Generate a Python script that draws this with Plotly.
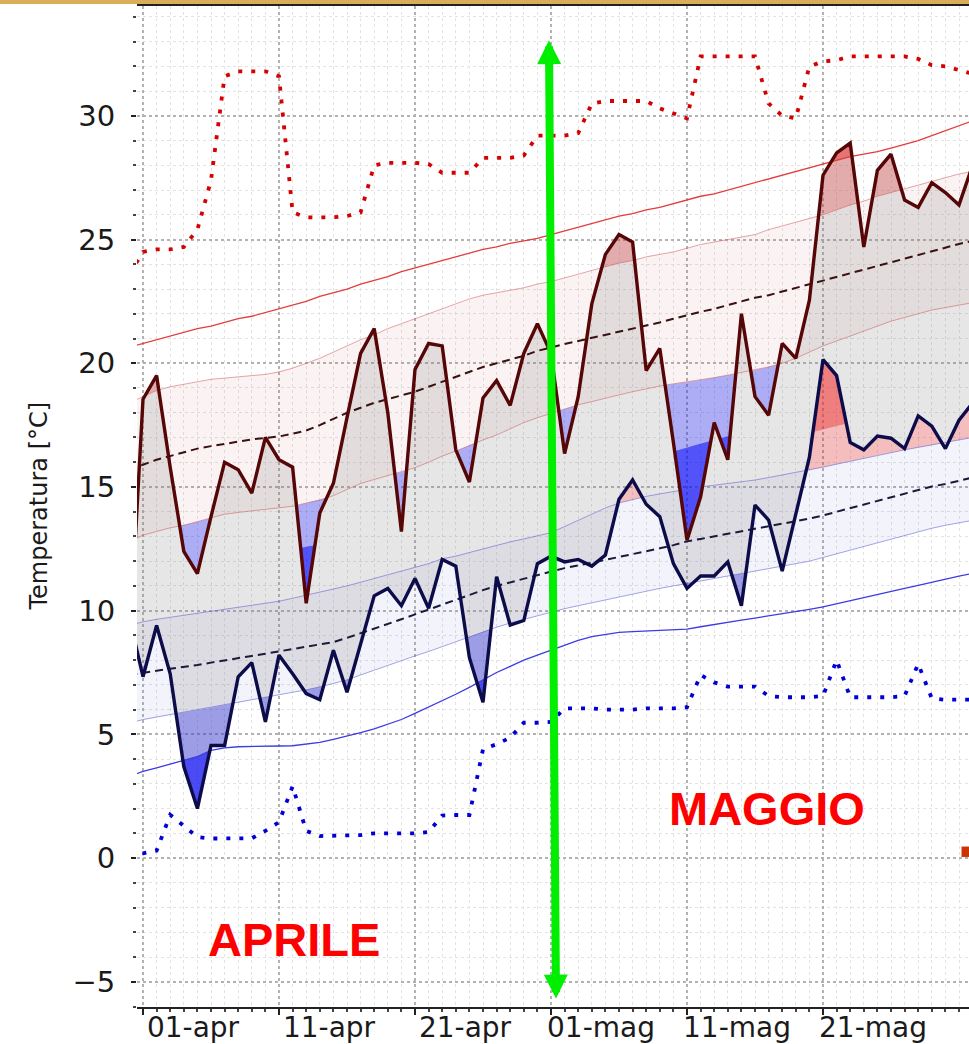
import numpy as np
import pandas as pd
import plotly.graph_objects as go

# ---------------- data (daily, 31-mar .. 01-jun) ----------------
dates = pd.date_range("2023-03-31", "2023-06-01", freq="D")

tmax = [8.5, 18.55, 19.5, 15.8, 12.4, 11.5, 13.8, 16.0, 15.7, 14.75, 17.0, 16.1, 15.8, 10.3, 13.95,
        15.15, 17.8, 20.4, 21.4, 18.0, 13.2, 19.75, 20.8, 20.7, 16.5, 15.2, 18.6, 19.3, 18.3, 20.4,
        21.6, 20.4, 16.35, 18.65, 22.4, 24.4, 25.2, 24.9, 19.7, 20.6, 16.8, 12.85, 14.6, 17.6, 16.1,
        22.0, 18.65, 17.9, 20.8, 20.2, 22.55, 27.6, 28.5, 28.9, 24.7, 27.8, 28.45, 26.6, 26.3, 27.3,
        26.9, 26.4, 28.0]
tmin = [9.7, 7.33, 9.4, 7.45, 3.7, 2.0, 4.55, 4.55, 7.33, 7.9, 5.5, 8.2, 7.45, 6.65, 6.4, 8.4,
        6.7, 8.7, 10.6, 10.9, 10.2, 11.3, 10.1, 12.07, 11.8, 8.1, 6.3, 11.37, 9.42, 9.6, 11.9, 12.2,
        11.97, 12.07, 11.8, 12.25, 14.5, 15.28, 14.3, 13.8, 11.9, 10.9, 11.4, 11.4, 11.97, 10.2,
        14.27, 13.66, 11.6, 13.9, 16.2, 20.15, 19.5, 16.8, 16.5, 17.06, 16.97, 16.55, 17.87, 17.46,
        16.55, 17.7, 18.4]
rec_max = [23.6, 24.5, 24.6, 24.6, 24.7, 25.4, 27.4, 31.6, 31.8, 31.8, 31.8, 31.6, 26.1, 25.9, 25.9,
           25.9, 25.95, 26.1, 28.0, 28.1, 28.1, 28.1, 28.05, 27.7, 27.7, 27.7, 28.3, 28.3, 28.3, 28.4,
           29.2, 29.2, 29.2, 29.3, 30.5, 30.6, 30.6, 30.6, 30.6, 30.3, 30.1, 29.9, 32.4, 32.4, 32.4,
           32.4, 32.4, 30.5, 30.0, 29.9, 32.0, 32.2, 32.25, 32.4, 32.4, 32.4, 32.4, 32.4, 32.3, 32.05,
           32.0, 31.85, 31.7]
rec_min = [0.19, 0.19, 0.3, 1.75, 1.3, 0.85, 0.79, 0.79, 0.79, 0.8, 1.1, 1.45, 2.9, 1.1, 0.89, 0.9,
           0.9, 0.93, 1.0, 1.0, 1.0, 1.0, 1.05, 1.72, 1.74, 1.74, 4.4, 4.6, 4.87, 5.47, 5.47, 5.5,
           6.05, 6.05, 6.05, 6.0, 6.0, 6.0, 6.05, 6.05, 6.05, 6.1, 7.4, 7.1, 6.93, 6.93, 6.93, 6.55,
           6.5, 6.5, 6.5, 6.55, 8.0, 6.5, 6.5, 6.5, 6.5, 6.55, 7.85, 6.45, 6.4, 6.4, 6.4]
tmax_ext_high = [20.65, 20.8, 20.95, 21.1, 21.25, 21.4, 21.5, 21.65, 21.8, 21.9, 22.05, 22.2, 22.35,
                 22.5, 22.7, 22.85, 23.0, 23.2, 23.35, 23.5, 23.7, 23.85, 24.0, 24.15, 24.3, 24.45,
                 24.6, 24.7, 24.85, 24.95, 25.05, 25.2, 25.35, 25.5, 25.65, 25.8, 25.95, 26.05, 26.2,
                 26.3, 26.45, 26.6, 26.75, 26.85, 27.0, 27.15, 27.3, 27.45, 27.6, 27.75, 27.9, 28.05,
                 28.2, 28.35, 28.45, 28.55, 28.7, 28.85, 29.0, 29.2, 29.4, 29.6, 29.8]
tmax_p90 = [18.4, 18.65, 18.9, 19.05, 19.15, 19.25, 19.35, 19.4, 19.45, 19.5, 19.55, 19.65, 19.8, 20.0,
            20.2, 20.45, 20.7, 20.95, 21.15, 21.4, 21.6, 21.8, 22.0, 22.2, 22.4, 22.6, 22.75, 22.85,
            22.95, 23.05, 23.2, 23.3, 23.45, 23.6, 23.75, 23.9, 24.05, 24.15, 24.3, 24.4, 24.5, 24.65,
            24.8, 24.9, 25.0, 25.1, 25.2, 25.4, 25.55, 25.7, 25.85, 26.0, 26.2, 26.4, 26.55, 26.75,
            26.9, 27.05, 27.2, 27.35, 27.5, 27.65, 27.75]
tmax_mean = [15.65, 15.9, 16.1, 16.25, 16.4, 16.55, 16.65, 16.75, 16.85, 16.92, 16.98, 17.04, 17.15,
             17.28, 17.5, 17.75, 18.0, 18.2, 18.4, 18.55, 18.7, 18.85, 19.05, 19.25, 19.45, 19.65,
             19.85, 20.0, 20.15, 20.3, 20.5, 20.65, 20.78, 20.9, 21.02, 21.15, 21.27, 21.4, 21.52,
             21.65, 21.8, 21.95, 22.08, 22.2, 22.35, 22.5, 22.65, 22.75, 22.9, 23.05, 23.2, 23.35,
             23.5, 23.65, 23.8, 23.95, 24.1, 24.25, 24.4, 24.55, 24.7, 24.82, 24.95]
tmax_p10 = [12.8, 13.05, 13.2, 13.35, 13.45, 13.6, 13.75, 13.9, 13.97, 14.03, 14.08, 14.13, 14.22, 14.35,
            14.47, 14.65, 14.9, 15.14, 15.3, 15.45, 15.6, 15.78, 16.0, 16.25, 16.45, 16.68, 16.9, 17.1,
            17.35, 17.6, 17.8, 17.97, 18.15, 18.32, 18.45, 18.6, 18.72, 18.85, 18.97, 19.08, 19.17,
            19.25, 19.32, 19.42, 19.52, 19.62, 19.72, 19.85, 20.0, 20.2, 20.45, 20.7, 20.9, 21.1, 21.3,
            21.5, 21.7, 21.85, 22.0, 22.15, 22.25, 22.35, 22.45]
tmax_ext_low = [10.7, 10.85, 11.0, 11.15, 11.25, 11.35, 11.5, 11.65, 11.8, 11.95, 12.1, 12.3, 12.45,
                12.6, 12.65, 12.72, 12.8, 12.87, 12.95, 13.02, 13.1, 13.27, 13.43, 13.6, 13.77, 13.93,
                14.1, 14.27, 14.43, 14.6, 14.77, 14.93, 15.1, 15.27, 15.43, 15.6, 15.77, 15.93, 16.1,
                16.27, 16.43, 16.6, 16.75, 16.9, 17.05, 17.2, 17.35, 17.5, 17.65, 17.8, 17.95, 18.1,
                18.25, 18.4, 18.55, 18.7, 18.85, 19.0, 19.15, 19.3, 19.45, 19.6, 19.75]
tmin_ext_high = [11.3, 11.45, 11.6, 11.7, 11.8, 11.9, 12.0, 12.1, 12.2, 12.3, 12.4, 12.5, 12.6, 12.7,
                 12.82, 12.95, 13.08, 13.2, 13.35, 13.5, 13.65, 13.8, 13.92, 14.03, 14.13, 14.23,
                 14.33, 14.43, 14.53, 14.63, 14.75, 14.88, 15.05, 15.2, 15.35, 15.5, 15.62, 15.75,
                 15.87, 15.98, 16.1, 16.2, 16.3, 16.4, 16.5, 16.6, 16.7, 16.8, 16.9, 17.05, 17.2, 17.3,
                 17.45, 17.6, 17.75, 17.9, 18.05, 18.2, 18.35, 18.5, 18.65, 18.8, 18.95]
tmin_p90 = [9.4, 9.55, 9.65, 9.73, 9.82, 9.9, 9.98, 10.07, 10.14, 10.22, 10.3, 10.38, 10.5, 10.62,
            10.75, 10.88, 11.0, 11.15, 11.3, 11.45, 11.6, 11.75, 11.9, 12.1, 12.2, 12.35, 12.5, 12.65,
            12.78, 12.9, 13.02, 13.15, 13.4, 13.65, 13.9, 14.15, 14.35, 14.5, 14.62, 14.72, 14.82,
            14.92, 15.0, 15.07, 15.13, 15.2, 15.28, 15.38, 15.48, 15.58, 15.68, 15.8, 15.92, 16.04,
            16.16, 16.28, 16.4, 16.5, 16.6, 16.7, 16.8, 16.9, 17.0]
tmin_mean = [7.4, 7.5, 7.57, 7.65, 7.72, 7.8, 7.9, 8.0, 8.08, 8.17, 8.26, 8.35, 8.43, 8.52, 8.62, 8.73,
             8.9, 9.08, 9.27, 9.45, 9.65, 9.85, 10.05, 10.25, 10.45, 10.65, 10.83, 11.0, 11.15, 11.3,
             11.45, 11.6, 11.72, 11.83, 11.93, 12.05, 12.17, 12.28, 12.4, 12.52, 12.65, 12.8, 12.9,
             13.0, 13.1, 13.2, 13.3, 13.4, 13.5, 13.6, 13.72, 13.85, 14.0, 14.15, 14.3, 14.45, 14.6,
             14.75, 14.9, 15.02, 15.12, 15.25, 15.38]
tmin_p10 = [5.45, 5.6, 5.7, 5.8, 5.88, 5.98, 6.08, 6.18, 6.28, 6.38, 6.5, 6.6, 6.7, 6.8, 6.92, 7.05,
            7.2, 7.4, 7.6, 7.8, 8.0, 8.17, 8.35, 8.55, 8.75, 8.95, 9.15, 9.33, 9.5, 9.65, 9.8, 9.95,
            10.08, 10.2, 10.32, 10.45, 10.57, 10.68, 10.8, 10.9, 11.0, 11.1, 11.2, 11.3, 11.4, 11.5,
            11.6, 11.7, 11.8, 11.9, 12.0, 12.15, 12.3, 12.45, 12.6, 12.75, 12.9, 13.05, 13.2, 13.33,
            13.45, 13.55, 13.65]
tmin_ext_low = [3.3, 3.5, 3.65, 3.8, 3.95, 4.1, 4.35, 4.45, 4.5, 4.52, 4.53, 4.53, 4.54, 4.6, 4.68,
                4.8, 4.92, 5.07, 5.22, 5.4, 5.6, 5.85, 6.1, 6.35, 6.62, 6.9, 7.2, 7.5, 7.75, 8.0, 8.2,
                8.4, 8.6, 8.8, 8.95, 9.05, 9.12, 9.15, 9.17, 9.18, 9.2, 9.25, 9.35, 9.45, 9.55, 9.62,
                9.7, 9.78, 9.87, 9.96, 10.05, 10.15, 10.28, 10.4, 10.52, 10.65, 10.78, 10.9, 11.02,
                11.15, 11.27, 11.4, 11.5]

tick_dates = ["2023-04-01", "2023-04-11", "2023-04-21", "2023-05-01", "2023-05-11", "2023-05-21"]
tick_labels = ["01-apr", "11-apr", "21-apr", "01-mag", "11-mag", "21-mag"]
y_ticks = [-5, 0, 5, 10, 15, 20, 25, 30]

series = [tmax, tmin, rec_max, rec_min, tmax_ext_high, tmax_p90, tmax_mean, tmax_p10, tmax_ext_low,
          tmin_ext_high, tmin_p90, tmin_mean, tmin_p10, tmin_ext_low]
for s in series:
    assert len(s) == len(dates), len(s)

# ---------------- helpers ----------------
base = pd.Timestamp("2023-04-01")


def at_day(d):
    return (base + pd.to_timedelta(d, unit="D")).strftime("%Y-%m-%d %H:%M:%S")


idx = np.arange(len(dates))
tf = np.linspace(0, len(dates) - 1, (len(dates) - 1) * 48 + 1)
xf = (dates[0] + pd.to_timedelta(tf, unit="D")).values


def fine(a):
    return np.interp(tf, idx, np.asarray(a, dtype=float))


fig = go.Figure()


def poly(upper, lower, color):
    """Filled region between two curves, only where upper > lower (separate pieces)."""
    pos = (upper - lower) > 1e-9
    xs, ys = [], []
    i, n = 0, len(pos)
    while i < n:
        if not pos[i]:
            i += 1
            continue
        j = i
        while j < n and pos[j]:
            j += 1
        a, b = max(i - 1, 0), min(j, n - 1)
        xx = xf[a:b + 1]
        xs.extend(list(xx) + list(xx[::-1]) + [xx[0], None])
        ys.extend(list(upper[a:b + 1]) + list(lower[a:b + 1][::-1]) + [upper[a], None])
        i = j
    if not xs:
        return
    fig.add_trace(go.Scatter(
        x=xs, y=ys, mode="lines", fill="toself", fillcolor=color,
        line=dict(width=0, color="rgba(0,0,0,0)"), connectgaps=False,
        hoverinfo="skip", showlegend=False))


TX, TN = fine(tmax), fine(tmin)
XH, X90, X10, XL = fine(tmax_ext_high), fine(tmax_p90), fine(tmax_p10), fine(tmax_ext_low)
NH, N90, N10, NL = fine(tmin_ext_high), fine(tmin_p90), fine(tmin_p10), fine(tmin_ext_low)

# climatological bands
poly(X90, X10, "rgba(205,92,92,0.075)")
poly(N90, N10, "rgba(100,100,200,0.08)")
# gray between tmin and tmax
poly(TX, TN, "rgba(128,128,128,0.20)")

LRED, DRED = "rgba(220,40,40,0.30)", "rgba(230,40,40,0.42)"
LBLU, DBLU = "rgba(40,40,230,0.38)", "rgba(0,0,255,0.52)"
for V, H, P90, P10, L in [(TX, XH, X90, X10, XL), (TN, NH, N90, N10, NL)]:
    poly(np.maximum(V, P90), P90, LRED)
    poly(np.maximum(V, H), H, DRED)
    poly(P10, np.minimum(V, P10), LBLU)
    poly(L, np.minimum(V, L), DBLU)


def line(y, color, width, dash="solid"):
    fig.add_trace(go.Scatter(x=dates, y=y, mode="lines",
                             line=dict(color=color, width=width, dash=dash),
                             hoverinfo="skip", showlegend=False))


line(tmax_p90, "rgba(205,92,92,0.55)", 1)
line(tmax_p10, "rgba(205,92,92,0.55)", 1)
line(tmin_p90, "rgba(90,90,210,0.55)", 1)
line(tmin_p10, "rgba(90,90,210,0.55)", 1)
line(tmax_ext_high, "rgb(228,60,60)", 1.3)
line(tmin_ext_low, "rgb(60,60,228)", 1.3)
line(tmax_mean, "#3a1010", 2, "8px,5px")
line(tmin_mean, "#1a1a3a", 2, "8px,5px")
line(rec_max, "#d60000", 3.8, "4px,9px")
line(rec_min, "#0000d6", 3.8, "4px,9px")
line(tmax, "#560606", 3.4)
line(tmin, "#0c0c4a", 3.4)

# ---------------- layout ----------------
fig.update_layout(
    width=969, height=1044,
    margin=dict(l=137, r=0, t=6, b=37, autoexpand=False),
    paper_bgcolor="white", plot_bgcolor="white",
    showlegend=False,
    xaxis=dict(
        type="date", range=[at_day(-0.441), at_day(60.735)], automargin=False,
        tickvals=tick_dates, ticktext=tick_labels,
        ticks="outside", ticklen=6, tickwidth=1.5, tickcolor="#222",
        showline=True, linecolor="#222", linewidth=2, mirror=True,
        showgrid=True, gridcolor="#b2b2b2", griddash="dot", gridwidth=1.5,
        zeroline=False,
        minor=dict(dtick=86400000.0, tick0="2023-03-31", ticks="outside", ticklen=3,
                   tickcolor="#444", showgrid=True, gridcolor="#e3e3e3", gridwidth=1),
        tickfont=dict(family="DejaVu Sans", size=28, color="#1a1a1a"),
        ticklabelshift=50, ticklabelstandoff=-12,
    ),
    yaxis=dict(
        range=[-6.02, 34.44], tickvals=y_ticks, automargin=False,
        ticks="outside", ticklen=5, tickwidth=1.5, tickcolor="#222",
        showline=False, showgrid=True, gridcolor="#b2b2b2", griddash="dot", gridwidth=1.5,
        zeroline=False,
        minor=dict(dtick=1, ticks="outside", ticklen=3, tickcolor="#444",
                   showgrid=True, gridcolor="#e3e3e3", gridwidth=1),
        tickfont=dict(family="DejaVu Sans", size=29, color="#1a1a1a"),
        ticklabelstandoff=10,
    ),
)

fig.add_annotation(text="Temperatura [°C]", xref="paper", yref="paper",
                   x=-0.1166, y=0.501, xanchor="center", yanchor="middle",
                   textangle=-90, showarrow=False,
                   font=dict(family="DejaVu Sans", size=24, color="#1a1a1a"))

fig.add_annotation(text="<b>APRILE</b>", x=at_day(11.1), y=-3.31, xref="x", yref="y",
                   showarrow=False, xanchor="center", yanchor="middle",
                   font=dict(family="Liberation Sans", size=47, color="#ff0000"))
fig.add_annotation(text="<b>MAGGIO</b>", x=at_day(45.85), y=2.02, xref="x", yref="y",
                   showarrow=False, xanchor="center", yanchor="middle",
                   font=dict(family="Liberation Sans", size=47, color="#ff0000"))

# green double arrow
fig.add_annotation(text="", x=at_day(29.85), y=33.06, ax=at_day(30.37), ay=-5.74,
                   xref="x", yref="y", axref="x", ayref="y",
                   showarrow=True, arrowside="end+start", arrowhead=2, startarrowhead=2,
                   arrowsize=0.6, startarrowsize=0.6, arrowwidth=8, arrowcolor="#00ee00",
                   standoff=0, startstandoff=0)

# decorations
fig.add_shape(type="rect", xref="paper", yref="paper", x0=-0.17, x1=1.0, y0=1.002, y1=1.007,
              fillcolor="#d8ae58", line=dict(width=0), layer="above")
fig.add_shape(type="rect", xref="paper", yref="paper", x0=0.991, x1=1.0, y0=0.1499, y1=0.1603,
              fillcolor="#cc3300", line=dict(width=0), layer="above")

fig.write_html("out.html", config={"displayModeBar": False},
               post_script="document.body.style.margin='0';")
